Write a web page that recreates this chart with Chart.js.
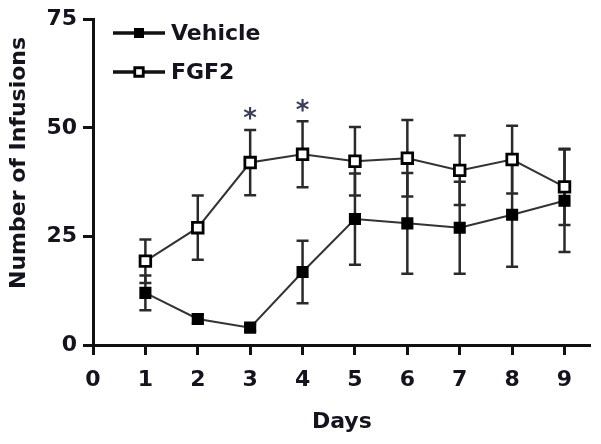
<!DOCTYPE html>
<html>
<head>
<meta charset="utf-8">
<script src="https://cdn.jsdelivr.net/npm/chart.js@4.4.0/dist/chart.umd.min.js"></script>
<style>
    html, body { margin: 0; padding: 0; background: #fff; }
</style>
</head>
<body>
<canvas id="infusionChart" width="601" height="444"></canvas>
<script>
// values (mean and error bar half-length)
const days = [1, 2, 3, 4, 5, 6, 7, 8, 9];
const vehicleMean = [12, 6, 4, 16.8, 29, 28, 27, 30, 33.2];
const vehicleErr = [4, 1, 0.8, 7.2, 10.5, 11.6, 10.6, 12, 11.8];
const fgf2Mean = [19.3, 27, 42, 43.9, 42.3, 43, 40.2, 42.7, 36.4];
const fgf2Err = [5, 7.4, 7.5, 7.6, 7.9, 8.8, 8, 7.8, 8.8];
const significantDays = [3, 4];
const xTicks = [0, 1, 2, 3, 4, 5, 6, 7, 8, 9];
const yTicks = [0, 25, 50, 75];

const FONT = '"DejaVu Sans", "Liberation Sans", Arial, sans-serif';
const INK = '#14141e';

function points(mean) {
    return days.map((d, i) => ({x: d, y: mean[i]}));
}

// error bars go under the lines and markers
const errorBars = {
    id: 'errorBars',
    beforeDatasetsDraw(chart) {
        const ctx = chart.ctx;
        const xs = chart.scales.x, ys = chart.scales.y;
        ctx.save();
        chart.data.datasets.forEach(ds => {
            ctx.strokeStyle = '#2a2a2a';
            ctx.lineWidth = 2.5;
            ds.data.forEach((p, i) => {
                const e = ds.errors[i];
                const px = xs.getPixelForValue(p.x);
                const top = ys.getPixelForValue(p.y + e);
                const bot = ys.getPixelForValue(p.y - e);
                ctx.beginPath();
                ctx.moveTo(px, top); ctx.lineTo(px, bot);
                ctx.moveTo(px - 6, top); ctx.lineTo(px + 6, top);
                ctx.moveTo(px - 6, bot); ctx.lineTo(px + 6, bot);
                ctx.stroke();
            });
        });
        ctx.restore();
    }
};

// asterisks above FGF2 error bars + the legend in the upper left
const extras = {
    id: 'extras',
    afterDraw(chart) {
        const ctx = chart.ctx;
        const xs = chart.scales.x, ys = chart.scales.y;
        ctx.save();

        ctx.font = 'bold 26px ' + FONT;
        ctx.fillStyle = '#3b3f58';
        ctx.textAlign = 'center';
        ctx.textBaseline = 'alphabetic';
        const m = ctx.measureText('*');
        const mid = (m.actualBoundingBoxAscent - m.actualBoundingBoxDescent) / 2;
        significantDays.forEach(d => {
            const i = days.indexOf(d);
            const top = ys.getPixelForValue(fgf2Mean[i] + fgf2Err[i]);
            ctx.fillText('*', xs.getPixelForValue(d), top - 16 + mid);
        });

        // legend
        const x0 = 113, y0 = 33, gap = 39;
        chart.data.datasets.forEach((ds, i) => {
            const y = y0 + i * gap;
            ctx.strokeStyle = '#111';
            ctx.lineWidth = 3.5;
            ctx.beginPath();
            ctx.moveTo(x0, y); ctx.lineTo(x0 + 52, y);
            ctx.stroke();
            ctx.fillStyle = ds.pointBackgroundColor;
            ctx.strokeStyle = ds.pointBorderColor;
            ctx.lineWidth = ds.pointBorderWidth;
            Chart.helpers.drawPoint(ctx, {pointStyle: 'rect', radius: 6, borderWidth: ds.pointBorderWidth, rotation: 0}, x0 + 26, y);
            ctx.fillStyle = INK;
            ctx.font = 'bold 22px ' + FONT;
            ctx.textAlign = 'left';
            ctx.textBaseline = 'middle';
            ctx.fillText(ds.label, x0 + 58, y + 1);
        });
        ctx.restore();
    }
};

const axisCommon = {
    grid: {
        display: true,
        drawOnChartArea: false,
        drawTicks: true,
        tickLength: 10,
        tickWidth: 3,
        tickColor: '#111'
    },
    border: { display: true, width: 3, color: '#111' }
};

new Chart(document.getElementById('infusionChart'), {
    type: 'line',
    data: {
        datasets: [
            {
                label: 'Vehicle',
                data: points(vehicleMean),
                errors: vehicleErr,
                borderColor: '#333',
                borderWidth: 2,
                pointStyle: 'rect',
                pointRadius: 7.5,
                pointBackgroundColor: '#000',
                pointBorderColor: '#000',
                pointBorderWidth: 1.5,
                tension: 0
            },
            {
                label: 'FGF2',
                data: points(fgf2Mean),
                errors: fgf2Err,
                borderColor: '#333',
                borderWidth: 2,
                pointStyle: 'rect',
                pointRadius: 7.5,
                pointBackgroundColor: '#fff',
                pointBorderColor: '#000',
                pointBorderWidth: 2.8,
                tension: 0
            }
        ]
    },
    options: {
        responsive: false,
        animation: false,
        clip: false,
        layout: { padding: { top: 13, right: 9, left: 0, bottom: 0 } },
        plugins: {
            legend: { display: false },
            tooltip: { enabled: false }
        },
        scales: {
            x: {
                type: 'linear',
                min: 0,
                max: 9.5,
                afterFit: s => { s.height = 99; },
                afterBuildTicks: s => { s.ticks = xTicks.map(v => ({value: v})); },
                ticks: {
                    padding: 12,
                    color: INK,
                    font: { family: FONT, size: 22, weight: 'bold' },
                    maxRotation: 0
                },
                title: {
                    display: true,
                    text: 'Days',
                    color: INK,
                    font: { family: FONT, size: 22, weight: 'bold' },
                    padding: { top: 0, bottom: 9 }
                },
                ...axisCommon
            },
            y: {
                min: 0,
                max: 75,
                afterFit: s => { s.width = 93; },
                afterBuildTicks: s => { s.ticks = yTicks.map(v => ({value: v})); },
                ticks: {
                    padding: 6,
                    color: INK,
                    font: { family: FONT, size: 22, weight: 'bold' }
                },
                title: {
                    display: true,
                    // leading spaces push the rotated label up the axis like in the original
                    text: '     Number of Infusions',
                    color: INK,
                    font: { family: FONT, size: 22, weight: 'bold' },
                    padding: { top: 6, bottom: 0 }
                },
                ...axisCommon
            }
        }
    },
    plugins: [errorBars, extras]
});
</script>
</body>
</html>
